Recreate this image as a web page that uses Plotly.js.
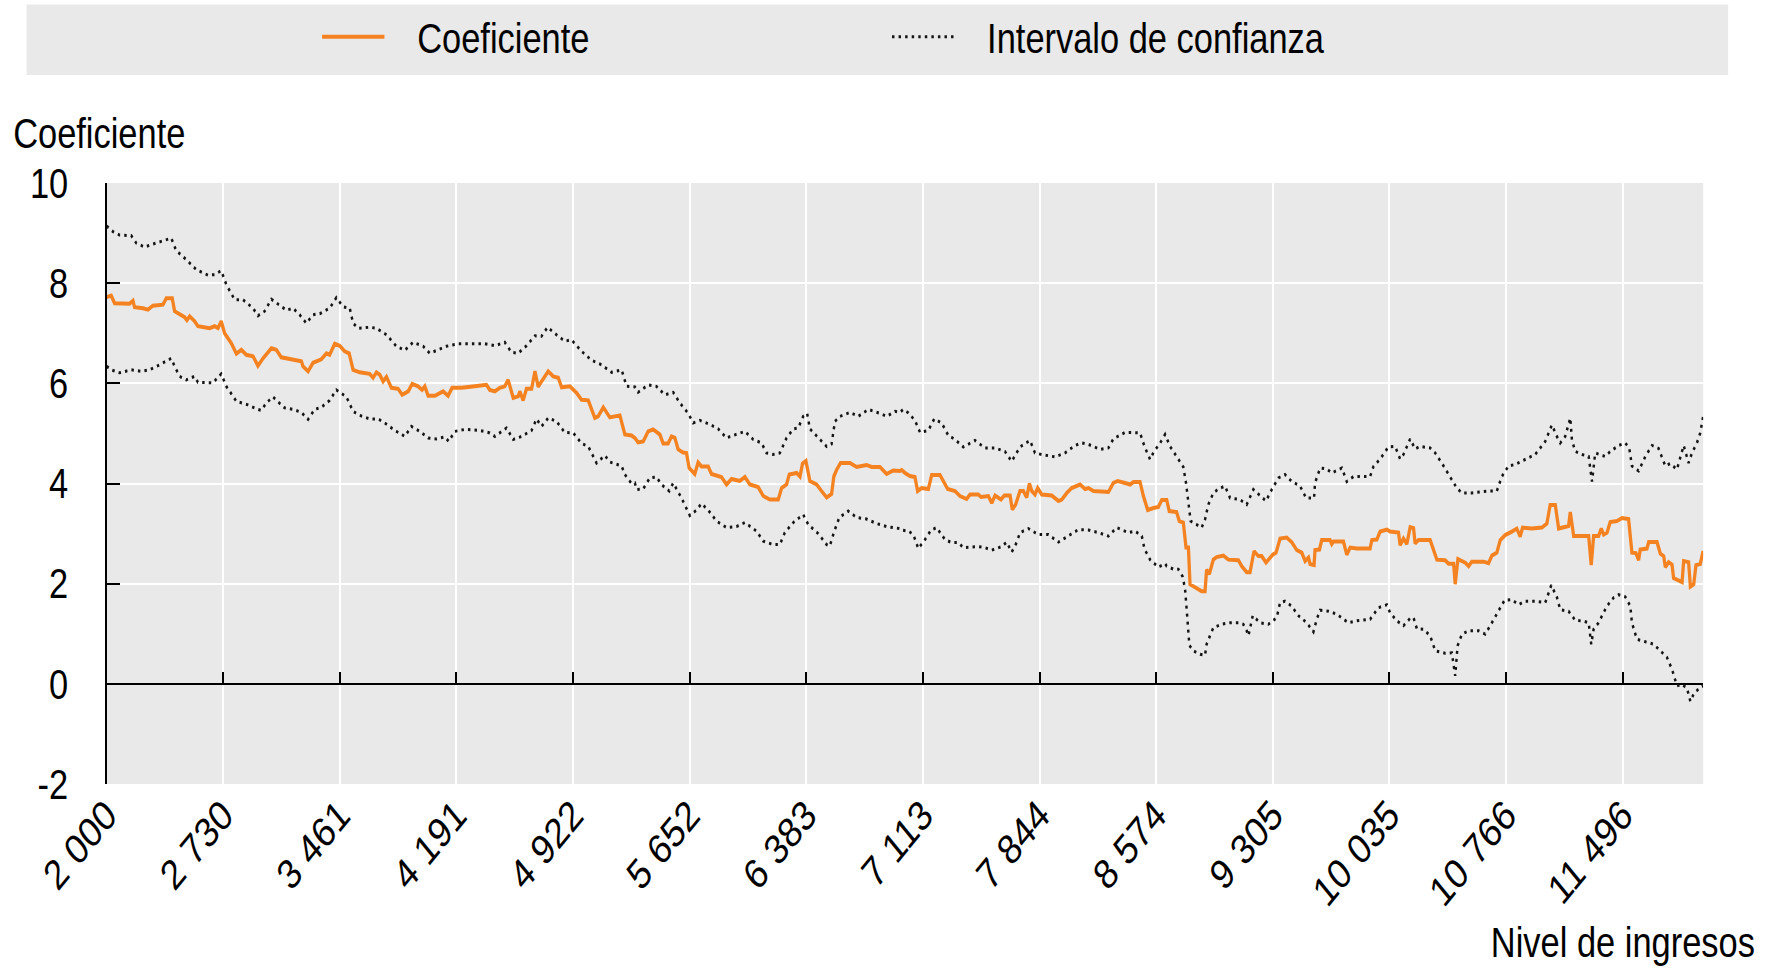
<!DOCTYPE html>
<html>
<head>
<meta charset="utf-8">
<script src="https://cdn.plot.ly/plotly-3.0.1.min.js"></script>
<style>
  html, body { margin:0; padding:0; background:#fff; overflow:hidden; width:1772px; height:972px; }
  #chart { width:2161px; height:972px; transform: scaleX(0.82); transform-origin: 0 0; }
</style>
</head>
<body>
<div id="chart"></div>
<script>
// ---- Data ----
const tickVals = [2000, 2730, 3461, 4191, 4922, 5652, 6383, 7113, 7844, 8574, 9305, 10035, 10766, 11496];
const tickText = ["2 000", "2 730", "3 461", "4 191", "4 922", "5 652", "6 383", "7 113", "7 844", "8 574", "9 305", "10 035", "10 766", "11 496"];
const yTickVals = [-2, 0, 2, 4, 6, 8, 10];
const yTickText = ["-2", "0", "2", "4", "6", "8", "10"];

const coefX = [2000,2029,2050,2144,2165,2175,2228,2259,2290,2353,2374,2411,2426,2457,2489,2503,2520,2551,2572,2645,2677,2698,2718,2739,2781,2813,2844,2875,2917,2948,2980,3032,3063,3094,3147,3189,3220,3230,3262,3293,3345,3377,3397,3429,3460,3491,3519,3544,3585,3648,
3669,3690,3711,3732,3753,3784,3826,3851,3889,3914,3951,3976,3993,4014,4056,4108,4139,4164,4223,4306,4379,4400,4432,4463,4494,4515,4547,4578,4588,4609,4630,4662,4683,4703,4724,4766,4797,4829,4850,4902,4944,4975,5017,5058,5079,5111,5152,5215,5246,5288,5309,
5329,5361,5392,5423,5465,5486,5517,5538,5559,5580,5611,5632,5649,5684,5705,5726,5768,5789,5824,5851,5883,5914,5966,5998,6029,6081,6113,6154,6207,6228,6259,6276,6322,6343,6359,6380,6405,6447,6478,6510,6541,6555,6572,6597,6656,6698,6760,6792,6844,6886,6927,6969,
6980,7001,7032,7063,7080,7105,7147,7168,7220,7251,7268,7314,7345,7387,7408,7460,7477,7523,7544,7565,7602,7623,7659,7673,7694,7721,7742,7763,7780,7795,7815,7832,7857,7920,7962,7983,8014,8045,8097,8129,8150,8181,8275,8306,8333,8379,8411,8432,8473,8494,8521,8557,8588,8609,8630,
8640,8656,8702,8719,8744,8761,8776,8786,8828,8859,8880,8890,8907,8932,8953,8995,9026,9089,9110,9141,9162,9187,9214,9235,9262,9287,9304,9325,9350,9392,9423,9455,9486,9507,9528,9538,9563,9569,9597,9611,9663,9674,9684,9747,9768,9789,9831,9914,9925,9956,9977,10019,10039,10092,10102,10123,10144,10165,10186,10196,10217,10290,
10311,10332,10384,10405,10437,10447,10464,10510,10531,10551,10625,10656,10677,10708,10729,10760,10802,10833,10854,10869,10927,10990,11021,11042,11074,11095,11157,11168,11189,11283,11299,11314,11345,11362,11377,11398,11418,11460,11492,11533,11554,11579,11596,11606,11648,11659,11711,11732,11753,11763,11784,11805,11815,11868,11878,11909,11920,11941,11955,11982,12000];
const coefY = [7.72,7.75,7.60,7.59,7.65,7.52,7.50,7.47,7.55,7.57,7.70,7.70,7.44,7.37,7.32,7.26,7.34,7.24,7.14,7.10,7.14,7.10,7.24,7.00,6.80,6.59,6.67,6.57,6.54,6.35,6.50,6.70,6.67,6.52,6.48,6.46,6.44,6.34,6.24,6.41,6.48,6.60,6.57,6.79,6.75,6.64,6.60,6.27,6.22,6.19,
6.11,6.22,6.17,6.04,6.13,5.91,5.89,5.77,5.84,5.99,5.94,5.87,5.94,5.75,5.75,5.84,5.75,5.91,5.91,5.94,5.97,5.87,5.84,5.91,5.94,6.07,5.71,5.74,5.84,5.66,5.89,5.89,6.24,5.93,6.04,6.24,6.14,6.11,5.92,5.94,5.81,5.67,5.66,5.31,5.34,5.52,5.32,5.36,4.98,4.96,4.91,
4.82,4.84,5.04,5.08,4.98,4.80,4.80,4.94,4.91,4.68,4.62,4.61,4.31,4.19,4.42,4.34,4.34,4.19,4.16,4.13,3.98,4.09,4.05,4.13,3.98,3.93,3.75,3.68,3.68,3.91,3.98,4.18,4.21,4.14,4.40,4.45,4.05,3.98,3.85,3.72,3.79,4.14,4.27,4.41,4.41,4.33,4.37,4.33,4.33,4.19,4.26,4.25,
4.27,4.21,4.15,4.13,3.85,3.91,3.89,4.17,4.17,4.01,3.89,3.85,3.75,3.69,3.78,3.78,3.73,3.75,3.61,3.76,3.68,3.76,3.76,3.48,3.58,3.85,3.85,3.72,4.00,3.85,3.78,3.91,3.78,3.76,3.65,3.68,3.81,3.91,3.98,3.89,3.91,3.85,3.83,4.01,4.05,4.01,3.98,4.03,4.03,3.75,3.47,3.51,3.53,3.67,3.67,
3.67,3.45,3.43,3.25,3.22,2.72,2.72,1.99,1.90,1.85,1.85,2.28,2.19,2.48,2.53,2.56,2.48,2.47,2.35,2.23,2.23,2.65,2.55,2.55,2.42,2.52,2.58,2.62,2.90,2.92,2.83,2.67,2.62,2.45,2.52,2.39,2.37,2.67,2.68,2.87,2.87,2.79,2.84,2.84,2.58,2.72,2.70,2.70,2.87,2.88,3.04,3.08,3.04,3.02,2.77,2.90,2.79,3.13,3.11,2.80,2.87,2.87,
2.68,2.48,2.47,2.40,2.40,1.99,2.49,2.42,2.35,2.44,2.44,2.41,2.56,2.62,2.87,2.97,3.04,3.10,2.94,3.12,3.10,3.12,3.20,3.57,3.57,3.10,3.15,3.43,2.95,2.95,2.37,2.95,2.95,3.10,2.98,3.02,3.23,3.25,3.31,3.29,2.62,2.61,2.47,2.68,2.70,2.83,2.83,2.60,2.55,2.33,2.43,2.38,2.11,2.03,2.45,2.43,1.94,1.99,2.37,2.39,2.65];

const upperX = [2000,2040,2081,2154,2186,2238,2290,2363,2405,2436,2499,2562,2635,2677,2718,2750,2802,2854,2917,2948,2990,3032,3063,3126,3168,3209,3251,3293,3335,3397,3439,3481,3523,3544,3575,3648,
3690,3753,3815,3868,3920,3983,4024,4056,4129,4202,4317,4369,4432,4494,4536,4578,4630,4683,4724,4762,4818,4870,4912,4975,5038,5100,5163,5226,5257,5309,
5329,5392,5444,5496,5549,5590,5643,5674,5716,5778,5831,5883,5925,5998,6050,6102,6133,6175,6217,6259,6301,6332,6363,6388,6405,6468,6510,6541,6562,6593,6656,6708,6771,6844,6886,6938,6969,
6990,7022,7063,7095,7147,7184,7230,7272,7314,7366,7439,7502,7565,7627,7669,7721,7784,7815,7857,7941,8003,8066,8108,8150,8223,8275,8306,8379,8421,8473,8501,8536,8557,8599,8630,
8640,8661,8702,8744,8761,8776,8790,8828,8859,8880,8901,8932,8964,9005,9037,9099,9141,9183,9225,9262,9298,9340,9381,9423,9475,9513,9563,9569,9601,9643,9674,9737,9768,9810,9914,9935,9977,10029,10071,10102,10123,10165,10196,10227,10290,
10322,10374,10426,10457,10489,10551,10656,10708,10739,10781,10823,10865,10948,11011,11053,11084,11105,11136,11157,11168,11178,11199,11241,11283,11304,11324,11387,11418,11471,11512,11537,11554,11596,11638,11680,11721,11763,11794,11836,11878,11909,11930,11961,11982,12000];
const upperY = [9.14,9.03,8.96,8.95,8.80,8.72,8.78,8.86,8.90,8.65,8.47,8.27,8.16,8.17,8.25,7.97,7.67,7.67,7.50,7.35,7.44,7.68,7.61,7.46,7.50,7.37,7.20,7.37,7.39,7.50,7.71,7.53,7.50,7.20,7.10,7.12,
7.10,6.97,6.74,6.66,6.82,6.74,6.60,6.64,6.74,6.79,6.80,6.79,6.75,6.82,6.62,6.60,6.75,6.95,6.94,7.12,6.97,6.84,6.87,6.64,6.46,6.37,6.22,6.27,5.94,5.93,
5.82,5.97,5.94,5.77,5.82,5.61,5.40,5.21,5.26,5.18,5.09,4.91,4.96,5.04,4.88,4.81,4.61,4.58,4.61,4.91,5.09,5.11,5.34,5.40,5.09,4.89,4.74,4.79,5.24,5.34,5.42,5.34,5.48,5.40,5.34,5.44,5.42,
5.48,5.41,5.26,5.02,5.06,5.29,5.21,4.96,4.88,4.73,4.86,4.71,4.71,4.64,4.44,4.73,4.86,4.61,4.58,4.53,4.61,4.76,4.81,4.78,4.68,4.71,4.89,5.02,5.02,5.01,4.74,4.48,4.62,4.81,4.98,
4.91,4.74,4.54,4.33,4.01,3.61,3.25,3.18,3.12,3.28,3.58,3.81,3.89,3.95,3.71,3.68,3.58,3.88,3.75,3.65,3.88,4.11,4.18,4.04,3.95,3.71,3.71,4.01,4.31,4.29,4.21,4.31,4.04,4.14,4.14,4.34,4.49,4.73,4.74,4.49,4.58,4.89,4.69,4.74,4.71,
4.61,4.35,4.08,3.91,3.81,3.81,3.85,3.85,4.14,4.35,4.38,4.45,4.58,4.84,5.17,4.94,4.81,4.94,5.21,5.31,4.87,4.64,4.58,4.54,4.04,4.61,4.54,4.64,4.76,4.81,4.71,4.35,4.25,4.54,4.76,4.70,4.35,4.40,4.28,4.76,4.41,4.61,4.81,5.01,5.34];

const lowerX = [2000,2029,2081,2154,2217,2269,2332,2405,2426,2457,2499,2551,2572,2666,2718,2750,2813,2886,2938,2969,3001,3042,3074,3115,3168,3220,3262,3303,3345,3397,3439,3502,3544,3585,3648,
3701,3742,3805,3868,3909,3962,4014,4066,4118,4143,4181,4244,4338,4400,4432,4505,4547,4599,4662,4693,4724,4766,4818,4870,4923,4975,5017,5069,5121,5152,5226,5246,5288,5309,
5319,5361,5402,5444,5475,5524,5549,5601,5653,5695,5726,5768,5820,5883,5945,5998,6071,6113,6175,6217,6248,6301,6363,6395,6457,6510,6530,6555,6589,6645,6698,6760,6823,6886,6948,6969,
6980,7022,7053,7084,7126,7164,7199,7251,7293,7335,7366,7460,7502,7544,7606,7638,7669,7700,7721,7774,7836,7899,7962,8024,8087,8150,8212,8275,8327,8400,8442,8484,8501,8536,8588,8630,
8640,8682,8713,8740,8755,8765,8776,8782,8807,8849,8880,8890,8911,8932,8984,9037,9089,9120,9141,9152,9179,9225,9277,9329,9350,9381,9423,9465,9517,9559,9580,9601,9653,9705,9778,9831,9914,9966,10019,10039,10081,10123,10165,10186,10207,10248,10290,
10322,10384,10426,10447,10462,10489,10531,10593,10635,10677,10719,10756,10802,10844,10886,10948,11011,11049,11084,11105,11157,11199,11251,11283,11299,11314,11345,11397,11439,11471,11512,11544,11554,11585,11638,11690,11732,11773,11805,11836,11868,11899,11920,11941,11972,12000];
const lowerY = [6.34,6.27,6.21,6.27,6.24,6.27,6.37,6.50,6.34,6.14,6.07,6.14,6.02,6.01,6.19,5.94,5.64,5.57,5.49,5.46,5.61,5.73,5.63,5.51,5.48,5.42,5.28,5.48,5.52,5.66,5.87,5.73,5.44,5.36,5.29,
5.29,5.21,5.06,4.94,5.14,5.04,4.91,4.89,4.93,4.84,5.04,5.08,5.06,5.01,4.94,5.11,4.88,4.94,5.06,5.29,5.14,5.31,5.24,5.02,5.01,4.80,4.74,4.41,4.56,4.43,4.35,4.18,4.00,4.01,
3.88,3.89,4.11,4.13,3.98,3.85,4.01,3.71,3.36,3.47,3.60,3.47,3.25,3.12,3.14,3.22,3.05,2.85,2.78,2.78,3.02,3.22,3.38,3.18,3.00,2.78,2.75,3.02,3.32,3.45,3.32,3.29,3.20,3.14,3.12,3.10,
3.07,3.05,2.98,2.70,2.88,3.07,3.12,2.88,2.82,2.82,2.72,2.74,2.72,2.67,2.74,2.83,2.63,2.82,3.02,3.10,2.98,2.98,2.83,2.95,3.08,3.07,3.02,2.95,3.12,3.02,3.05,2.95,2.69,2.48,2.33,2.40,
2.35,2.29,2.29,2.14,1.89,1.49,1.09,0.77,0.66,0.59,0.57,0.79,0.96,1.12,1.19,1.22,1.22,1.19,1.06,0.96,1.36,1.22,1.19,1.32,1.62,1.65,1.55,1.36,1.22,1.04,1.29,1.47,1.45,1.39,1.22,1.26,1.29,1.52,1.58,1.42,1.26,1.16,1.31,1.32,1.10,1.09,0.96,
0.66,0.61,0.62,0.16,0.76,0.99,1.06,1.06,0.99,1.22,1.45,1.67,1.68,1.58,1.65,1.65,1.62,1.97,1.73,1.48,1.45,1.27,1.25,1.22,0.79,1.09,1.22,1.55,1.72,1.78,1.74,1.55,1.22,0.89,0.84,0.79,0.66,0.53,0.29,-0.04,-0.01,-0.09,-0.35,-0.20,-0.10,-0.04];

// ---- Styling ----
// The chart is laid out wide and compressed horizontally (scaleX 0.82),
// which reproduces the narrow lettering and steep tick labels of the original.
const FONT = '"Liberation Sans", Arial, sans-serif';
const ORANGE = '#F58220';
const DOT = '#141414';
const FS = 42;
const GAP = '\u00A0\u00A0\u00A0';

const traces = [
  { x: coefX, y: coefY, type: 'scatter', mode: 'lines', name: GAP + 'Coeficiente',
    line: { color: ORANGE, width: 4 }, hoverinfo: 'skip' },
  { x: upperX, y: upperY, type: 'scatter', mode: 'lines', name: GAP + 'Intervalo de confianza',
    line: { color: DOT, width: 3, dash: '3px,5px' }, hoverinfo: 'skip' },
  { x: lowerX, y: lowerY, type: 'scatter', mode: 'lines', name: 'Intervalo de confianza',
    showlegend: false, xaxis: 'x2',
    line: { color: DOT, width: 3, dash: '3px,5px' }, hoverinfo: 'skip' }
];

const layout = {
  width: 2161, height: 972,
  margin: { l: 130, r: 84, t: 183, b: 188, pad: 0 },
  paper_bgcolor: '#ffffff',
  plot_bgcolor: '#e9e9e9',
  font: { family: FONT, size: FS, color: '#000000' },
  showlegend: true,
  legend: {
    orientation: 'h', xref: 'container', yref: 'container',
    x: 318 / 1772, y: 1 - 37 / 972, xanchor: 'left', yanchor: 'middle',
    bgcolor: 'rgba(0,0,0,0)', borderwidth: 0,
    font: { family: FONT, size: FS, color: '#000' },
    itemwidth: 76, entrywidth: 604, entrywidthmode: 'pixels'
  },
  xaxis: {
    range: [2000, 12000], tickmode: 'array', tickvals: tickVals, ticktext: tickText,
    tickangle: -45, ticks: '', showline: false, zeroline: false,
    showgrid: true, gridcolor: '#ffffff', gridwidth: 2.4,
    tickfont: { family: FONT, size: FS, color: '#000' },
    ticklabelstandoff: -3, fixedrange: true
  },
  xaxis2: {
    overlaying: 'x', anchor: 'free', position: 1 / 6,
    range: [2000, 12000], tickmode: 'array', tickvals: tickVals,
    ticks: 'inside', ticklen: 12, tickwidth: 2.4, tickcolor: '#000',
    showticklabels: false, showgrid: false, zeroline: false, showline: false, fixedrange: true
  },
  yaxis: {
    range: [-2, 10], tickmode: 'array', tickvals: yTickVals, ticktext: yTickText,
    ticks: 'inside', ticklen: 16, tickwidth: 2, tickcolor: '#000',
    showline: true, linecolor: '#000', linewidth: 2.4,
    zeroline: true, zerolinecolor: '#000', zerolinewidth: 2,
    showgrid: true, gridcolor: '#ffffff', gridwidth: 2,
    tickfont: { family: FONT, size: FS, color: '#000' },
    ticklabelstandoff: 36, fixedrange: true
  },
  shapes: [
    { type: 'rect', xref: 'paper', yref: 'paper', layer: 'below',
      x0: (27 - 107) / 1596, x1: (1728 - 107) / 1596,
      y0: 1 + (183 - 75) / 601, y1: 1 + (183 - 4.5) / 601,
      fillcolor: '#e9e9e9', line: { width: 0 } }
  ],
  annotations: [
    { text: 'Coeficiente', xref: 'paper', yref: 'paper',
      x: (12 - 107) / 1596, y: 1 + (183 - 133) / 601, xanchor: 'left', yanchor: 'middle',
      showarrow: false, font: { family: FONT, size: FS, color: '#000' } },
    { text: 'Nivel de ingresos', xref: 'paper', yref: 'paper',
      x: (1756 - 107) / 1596, y: -(942 - 784) / 601, xanchor: 'right', yanchor: 'middle',
      showarrow: false, font: { family: FONT, size: FS, color: '#000' } }
  ]
};

Plotly.newPlot('chart', traces, layout, { displayModeBar: false, staticPlot: true });
</script>
</body>
</html>
